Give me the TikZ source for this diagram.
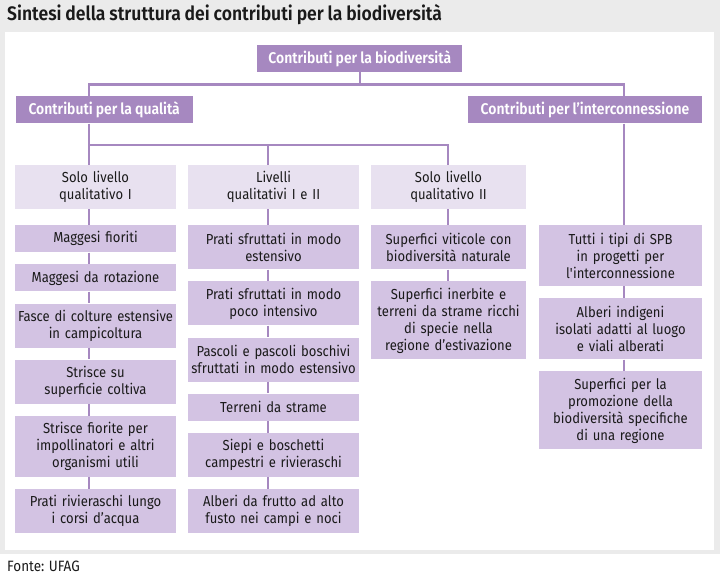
\documentclass[tikz,border=0pt]{standalone}
\usepackage{fontspec}
\setmainfont{Fira Sans}[FakeStretch=0.9,WordSpace=0.9,BoldFont={Fira Sans SemiBold}]
\usetikzlibrary{positioning}
\definecolor{bgray}{HTML}{EBEBEB}
\definecolor{pdark}{HTML}{A688C0}
\definecolor{pmid}{HTML}{D3C3E3}
\definecolor{plight}{HTML}{E8E1F0}
\definecolor{ink}{HTML}{1A1A1A}

\begin{document}
\begin{tikzpicture}[x=1pt,y=-1pt,node distance=11.7pt]
    \tikzstyle{conn}=[draw=pdark, line width=2.3pt]
    \tikzstyle{head}=[fill=pdark, text=white, inner sep=0pt, minimum height=27.5pt,
        font=\bfseries\fontsize{15.5}{17}\selectfont]
    \tikzstyle{level}=[fill=plight, text=ink, align=center, anchor=north,
        inner xsep=1pt, inner ysep=0pt, minimum height=44pt,
        font=\fontsize{14.5}{17}\selectfont]
    \tikzstyle{item}=[level, fill=pmid]
    \tikzstyle{nl}=[minimum height=10pt+17pt*#1]
    \tikzstyle{c1}=[text width=159pt]
    \tikzstyle{c2}=[text width=169pt]
    \tikzstyle{c3}=[text width=153pt]
    \tikzstyle{c4}=[text width=161pt]

    \useasboundingbox (0,0) rectangle (720,578);
    \fill[bgray] (0,0) rectangle (720,554);
    \fill[white] (5,32) rectangle (714,550);

    \node[anchor=base west, inner sep=0pt, text=ink, font=\bfseries\fontsize{19.5}{20}\selectfont]
        (title) at (7,21) {Sintesi della struttura dei contributi per la biodiversità};
    \node[anchor=base west, inner sep=0pt, text=ink, font=\fontsize{15}{17}\selectfont]
        (src) at (7,571) {Fonte: UFAG};

    \node[head, minimum width=205pt] (bio) at (359.8,58.3) {Contributi per la biodiversità};
    \node[head, minimum width=177pt] (qual) at (104.2,109.7) {Contributi per la qualità};
    \node[head, minimum width=233.4pt] (inter) at (585,109.7) {Contributi per l’interconnessione};

    \node[level, c1] (lv1) at (95.5,165) {Solo livello\\qualitativo I};
    \node[level, c2] (lv2) at (273.5,165) {Livelli\\qualitativi I e II};
    \node[level, c3] (lv3) at (448.5,165) {Solo livello\\qualitativo II};

    \node[item, c1, nl=1, below=15.7pt of lv1] (m1) {Maggesi fioriti};
    \node[item, c1, nl=1, below=of m1] (m2) {Maggesi da rotazione};
    \node[item, c1, nl=2, below=of m2] (m3) {Fasce di colture estensive\\in campicoltura};
    \node[item, c1, nl=2, below=of m3] (m4) {Strisce su\\superficie coltiva};
    \node[item, c1, nl=3, below=of m4] (m5) {Strisce fiorite per\\impollinatori e altri\\organismi utili};
    \node[item, c1, nl=2, below=of m5] (m6) {Prati rivieraschi lungo\\i corsi d’acqua};

    \node[item, c2, nl=2, below=15.7pt of lv2] (p1) {Prati sfruttati in modo\\estensivo};
    \node[item, c2, nl=2, below=of p1] (p2) {Prati sfruttati in modo\\poco intensivo};
    \node[item, c2, nl=2, below=of p2] (p3) {Pascoli e pascoli boschivi\\sfruttati in modo estensivo};
    \node[item, c2, nl=1, below=of p3] (p4) {Terreni da strame};
    \node[item, c2, nl=2, below=of p4] (p5) {Siepi e boschetti\\campestri e rivieraschi};
    \node[item, c2, nl=2, below=of p5] (p6) {Alberi da frutto ad alto\\fusto nei campi e noci};

    \node[item, c3, nl=2, below=15.7pt of lv3] (s1) {Superfici viticole con\\biodiversità naturale};
    \node[item, c3, nl=4, below=of s1] (s2) {Superfici inerbite e\\terreni da strame ricchi\\di specie nella\\regione d’estivazione};

    \node[item, c4, nl=3] (t1) at (620.5,225) {Tutti i tipi di SPB\\in progetti per\\l\textquotesingle interconnessione};
    \node[item, c4, nl=3, below=of t1] (t2) {Alberi indigeni\\isolati adatti al luogo\\e viali alberati};
    \node[item, c4, nl=4, below=of t2] (t3) {Superfici per la\\promozione della\\biodiversità specifiche\\di una regione};

    \coordinate (j1) at (89,84.5);
    \coordinate (j2) at (624,84.5);
    \coordinate (k1) at (89,145);
    \coordinate (k2) at (268,145);
    \coordinate (k3) at (448,145);

    \draw[conn] (bio.south) -- (bio.south |- j1);
    \draw[conn] (qual.north -| j1) |- (j2) -- (inter.north -| j2);
    \draw[conn] (qual.south -| k1) -- (lv1.north -| k1);
    \draw[conn] (k1) -- (k3) -- (lv3.north -| k3);
    \draw[conn] (k2) -- (lv2.north -| k2);
    \draw[conn] (inter.south -| j2) -- (t1.north -| j2);
    \foreach \a/\b in {lv1/m1,m1/m2,m2/m3,m3/m4,m4/m5,m5/m6}
        \draw[conn] (\a.south -| k1) -- (\b.north -| k1);
    \foreach \a/\b in {lv2/p1,p1/p2,p2/p3,p3/p4,p4/p5,p5/p6}
        \draw[conn] (\a.south -| k2) -- (\b.north -| k2);
    \foreach \a/\b in {lv3/s1,s1/s2}
        \draw[conn] (\a.south -| k3) -- (\b.north -| k3);
    \foreach \a/\b in {t1/t2,t2/t3}
        \draw[conn] (\a.south -| j2) -- (\b.north -| j2);
\end{tikzpicture}
\end{document}
